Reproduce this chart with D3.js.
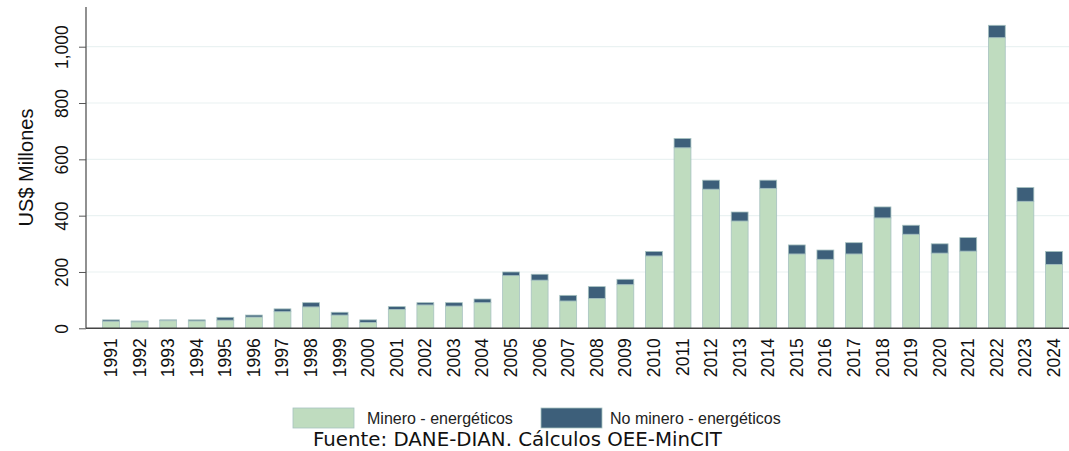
<!DOCTYPE html>
<html><head><meta charset="utf-8">
<script src="https://cdn.jsdelivr.net/npm/d3@7"></script>
<style>body{margin:0;background:#fff}svg{display:block}</style>
</head><body>
<svg id="c" width="1069" height="451"></svg>
<script>
const years = ["1991","1992","1993","1994","1995","1996","1997","1998","1999","2000","2001","2002","2003","2004","2005","2006","2007","2008","2009","2010","2011","2012","2013","2014","2015","2016","2017","2018","2019","2020","2021","2022","2023","2024"];
const minero = [25,23,27,26,29,40,59,76,47,21,67,83,79,91,187,171,97,106,155,257,641,494,381,497,264,245,264,392,334,267,274,1032,451,227];
const noMinero = [5,3,3,4,10,7,10,15,10,9,10,8,12,13,13,21,20,42,19,16,33,32,32,29,32,33,40,39,32,33,48,44,49,46];
const yTicks = [0,200,400,600,800,1000];
const seriesNames = ["Minero - energéticos","No minero - energéticos"];
const colors = ["#bfdcbf","#3d5f7a"];

const svg = d3.select("#c");
const font = "'Liberation Sans', Arial, sans-serif";
const y = d3.scaleLinear().domain([0,1000]).range([328.3,46.7]);
const x = d3.scaleBand().domain(years).range([102.6,1062.4]).paddingInner(0.41).paddingOuter(0);

// gridlines
svg.append("g").selectAll("line").data(yTicks.filter(d=>d>0)).join("line")
  .attr("x1",86).attr("x2",1069).attr("y1",d=>y(d)).attr("y2",d=>y(d))
  .attr("stroke","#eaf2f2").attr("stroke-width",1.2);

const data = years.map((yr,i)=>({year:yr, m:minero[i], n:noMinero[i]}));
const stack = d3.stack().keys(["m","n"])(data);
svg.append("g").selectAll("g").data(stack).join("g")
  .attr("fill",(d,i)=>colors[i])
  .selectAll("rect").data(d=>d).join("rect")
  .attr("x",d=>x(d.data.year)).attr("width",x.bandwidth())
  .attr("y",d=>y(d[1])).attr("height",d=>y(d[0])-y(d[1]))
  .attr("stroke","#a7c2c0").attr("stroke-width",0.8);

// y axis
const yAxis = svg.append("g").attr("transform","translate(86,0)")
  .call(d3.axisLeft(y).tickValues(yTicks).tickSize(7).tickFormat(d3.format(",")));
yAxis.select(".domain").remove();
yAxis.selectAll(".tick line").attr("stroke","#555");
yAxis.selectAll(".tick text").attr("font-family",font).attr("font-size",17.5).attr("fill","#111")
  .attr("text-anchor","middle").attr("x",0).attr("y",0).attr("dy",0)
  .attr("transform","translate(-18,0) rotate(-90)");
svg.append("line").attr("x1",86).attr("x2",86).attr("y1",7).attr("y2",328.3).attr("stroke","#555").attr("stroke-width",1.3);

// x axis
const xAxis = svg.append("g").attr("transform","translate(0,328.3)")
  .call(d3.axisBottom(x).tickSize(0));
xAxis.select(".domain").remove();
xAxis.selectAll(".tick text").attr("font-family",font).attr("font-size",17.5).attr("fill","#111")
  .attr("text-anchor","end").attr("transform","translate(6,10) rotate(-90)").attr("x",0).attr("y",0).attr("dy",0);
svg.append("line").attr("x1",86).attr("x2",1069).attr("y1",328.3).attr("y2",328.3).attr("stroke","#444").attr("stroke-width",1.5);

// y label
svg.append("text").attr("transform","translate(33,167.5) rotate(-90)").attr("text-anchor","middle")
  .attr("font-family",font).attr("font-size",20).attr("fill","#111").text("US$ Millones");

// legend
const leg = [{x:293,tx:367},{x:541,tx:610}];
seriesNames.forEach((s,i)=>{
  svg.append("rect").attr("x",leg[i].x).attr("y",408).attr("width",61).attr("height",20)
    .attr("fill",colors[i]).attr("stroke","#a7c2c0").attr("stroke-width",0.8);
  svg.append("text").attr("x",leg[i].tx).attr("y",424).attr("font-family",font).attr("font-size",16)
    .attr("fill","#222").text(s);
});
svg.append("text").attr("x",313).attr("y",446).attr("font-family","'DejaVu Sans', Verdana, sans-serif")
  .attr("font-size",19.8).attr("fill","#111").text("Fuente: DANE-DIAN. Cálculos OEE-MinCIT");
</script>
</body></html>
